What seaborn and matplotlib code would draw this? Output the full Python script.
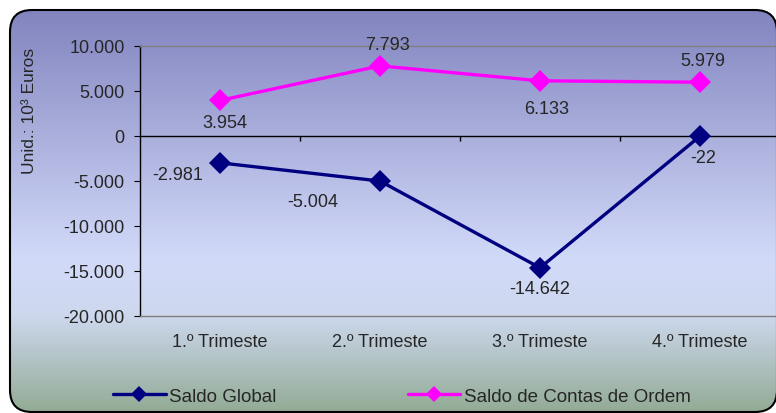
import numpy as np
import pandas as pd
import matplotlib
matplotlib.use("Agg")
import matplotlib.pyplot as plt
import seaborn as sns
from matplotlib.patches import FancyBboxPatch
from matplotlib.colors import LinearSegmentedColormap
from matplotlib.ticker import FuncFormatter

# %% Dados
trimestres = ["1.º Trimeste", "2.º Trimeste", "3.º Trimeste", "4.º Trimeste"]
saldo_global = [-2981, -5004, -14642, -22]
saldo_contas_ordem = [3954, 7793, 6133, 5979]
yticks = [10000, 5000, 0, -5000, -10000, -15000, -20000]

df = pd.DataFrame({"Trimestre": trimestres,
                   "Saldo Global": saldo_global,
                   "Saldo de Contas de Ordem": saldo_contas_ordem})

def fmt(v):
    return f"{v:,.0f}".replace(",", ".")

# %% Figura
sns.set_style("white")
plt.rcParams['font.family'] = ['Liberation Sans', 'DejaVu Sans']
FS = 13

fig = plt.figure(figsize=(7.76, 4.14), dpi=100)
fig.patch.set_facecolor("white")

#-- fundo em gradiente com cantos arredondados
bg = fig.add_axes([0, 0, 1, 1], zorder=-1)
bg.set_xlim(0, 776)
bg.set_ylim(414, 0)
bg.axis("off")
cmap = LinearSegmentedColormap.from_list(
    "fundo", [(0.0, "#8284bf"), (0.62, "#d2daf9"), (0.76, "#cdd8ee"), (1.0, "#93ab95")])
grad = np.linspace(0, 1, 256).reshape(-1, 1)
im = bg.imshow(grad, extent=[10, 777, 413, 11], aspect="auto", cmap=cmap)
frame = FancyBboxPatch((10, 11), 767, 402, boxstyle="round,pad=0,rounding_size=22",
                       facecolor="none", edgecolor="black", linewidth=1.5)
bg.add_patch(frame)
im.set_clip_path(frame)

#-- area do grafico
ax = fig.add_axes([140 / 776, 1 - 317 / 414, 640 / 776, 270 / 414])
ax.patch.set_alpha(0)

sns.lineplot(data=df, x="Trimestre", y="Saldo Global", ax=ax, color="#000080",
             marker="D", markersize=11, linewidth=2.4, markeredgewidth=0,
             label="Saldo Global", legend=False)
sns.lineplot(data=df, x="Trimestre", y="Saldo de Contas de Ordem", ax=ax, color="#ff00ff",
             marker="D", markersize=11, linewidth=2.4, markeredgewidth=0,
             label="Saldo de Contas de Ordem", legend=False)

ax.set_xlim(-0.5, 3.5)
ax.set_ylim(-20000, 10000)
ax.set_yticks(yticks)
ax.yaxis.set_major_formatter(FuncFormatter(lambda x, _: fmt(x)))
ax.tick_params(axis="y", length=4, width=0.8, color="black", labelsize=FS, pad=7, left=True)
ax.tick_params(axis="x", length=0, labelsize=FS, pad=12)
ax.set_xlabel("")
ax.set_ylabel("")

for side in ["top", "bottom"]:
    ax.spines[side].set_color("#808080")
    ax.spines[side].set_linewidth(1)
ax.spines["right"].set_visible(False)
ax.spines["left"].set_color("black")
ax.spines["left"].set_linewidth(1)

#-- linha do zero com marcas entre categorias
ax.axhline(0, color="black", linewidth=1, zorder=1)
ax.vlines([0.5, 1.5, 2.5], -600, 0, color="black", linewidth=1, zorder=1)

#-- rotulos dos valores
offs_global = [(-42, -12), (-67, -20), (0, -21), (3, -21)]
offs_ordem = [(5, -22), (7, 21), (7, -28), (3, 22)]
for i, (v, o) in enumerate(zip(saldo_global, offs_global)):
    ax.annotate(fmt(v), (i, v), xytext=o, textcoords="offset pixels",
                ha="center", va="center", fontsize=FS)
for i, (v, o) in enumerate(zip(saldo_contas_ordem, offs_ordem)):
    ax.annotate(fmt(v), (i, v), xytext=o, textcoords="offset pixels",
                ha="center", va="center", fontsize=FS)

#-- titulo do eixo
fig.text(29 / 776, 1 - 111 / 414, "Unid.: 10³ Euros", rotation=90,
         ha="center", va="center", fontsize=12.5)

#-- legenda
handles, labels = ax.get_legend_handles_labels()
fig.legend(handles, labels, loc="center left", bbox_to_anchor=(113 / 776, 1 - 397 / 414),
           ncol=2, frameon=False, fontsize=13.5, handlelength=2.8,
           handletextpad=0.2, columnspacing=7.0, markerscale=0.7,
           borderpad=0, borderaxespad=0)

fig.savefig("out.png", dpi=100)
